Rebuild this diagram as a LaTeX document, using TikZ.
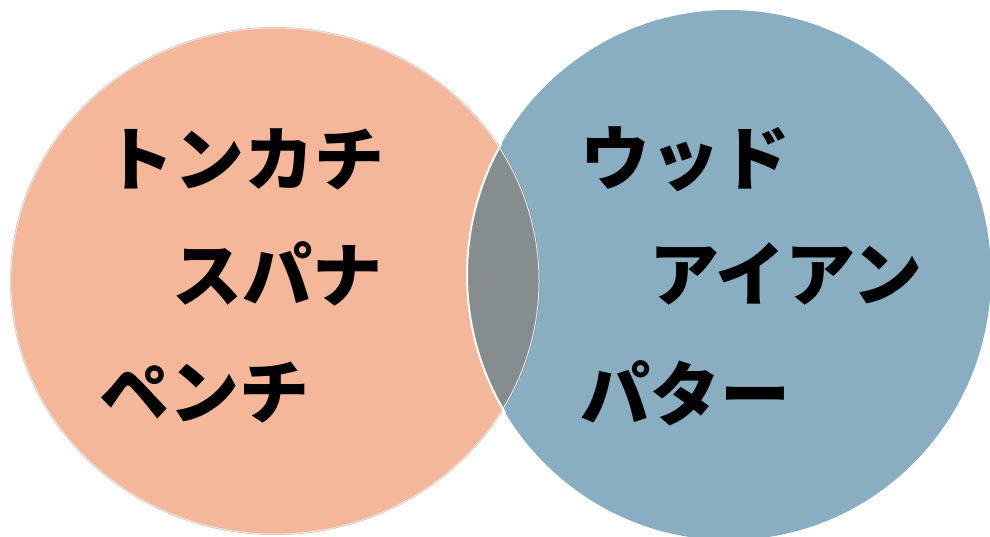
\documentclass[tikz,border=0pt]{standalone}
\usepackage{fontspec}
\newfontfamily\jp{Noto Sans CJK JP}
\definecolor{salmon}{HTML}{F4B799}
\definecolor{steel}{HTML}{8AAEC1}
\definecolor{lens}{HTML}{868D8E}
\begin{document}
\begin{tikzpicture}[x=1pt,y=-1pt,
  word/.style={anchor=west,inner sep=0pt,font=\jp\bfseries\fontsize{70}{70}\selectfont,text=black}]
\useasboundingbox (0,0) rectangle (990,536);
\coordinate (L) at (275,281);
\coordinate (R) at (729,275);
\fill[salmon] (L) ellipse[x radius=265pt,y radius=254pt];
\fill[steel] (R) ellipse[x radius=262pt,y radius=265pt];
\begin{scope}
  \clip (L) ellipse[x radius=265pt,y radius=254pt];
  \fill[lens] (R) ellipse[x radius=262pt,y radius=265pt];
  \draw[white!70!steel,line width=1pt] (L) ellipse[x radius=264pt,y radius=253pt];
\end{scope}
\begin{scope}
  \clip (L) ellipse[x radius=268pt,y radius=258pt];
  \draw[white,line width=2pt] (R) ellipse[x radius=262pt,y radius=265pt];
\end{scope}
\node[word] (t1) at (104,159) {トンカチ};
\node[word] (t2) at (172,274) {スパナ};
\node[word] (t3) at (99,393) {ペンチ};
\node[word] (t4) at (580,159) {ウッド};
\node[word] (t5) at (649,274) {アイアン};
\node[word] (t6) at (580,393) {パター};
\end{tikzpicture}
\end{document}
